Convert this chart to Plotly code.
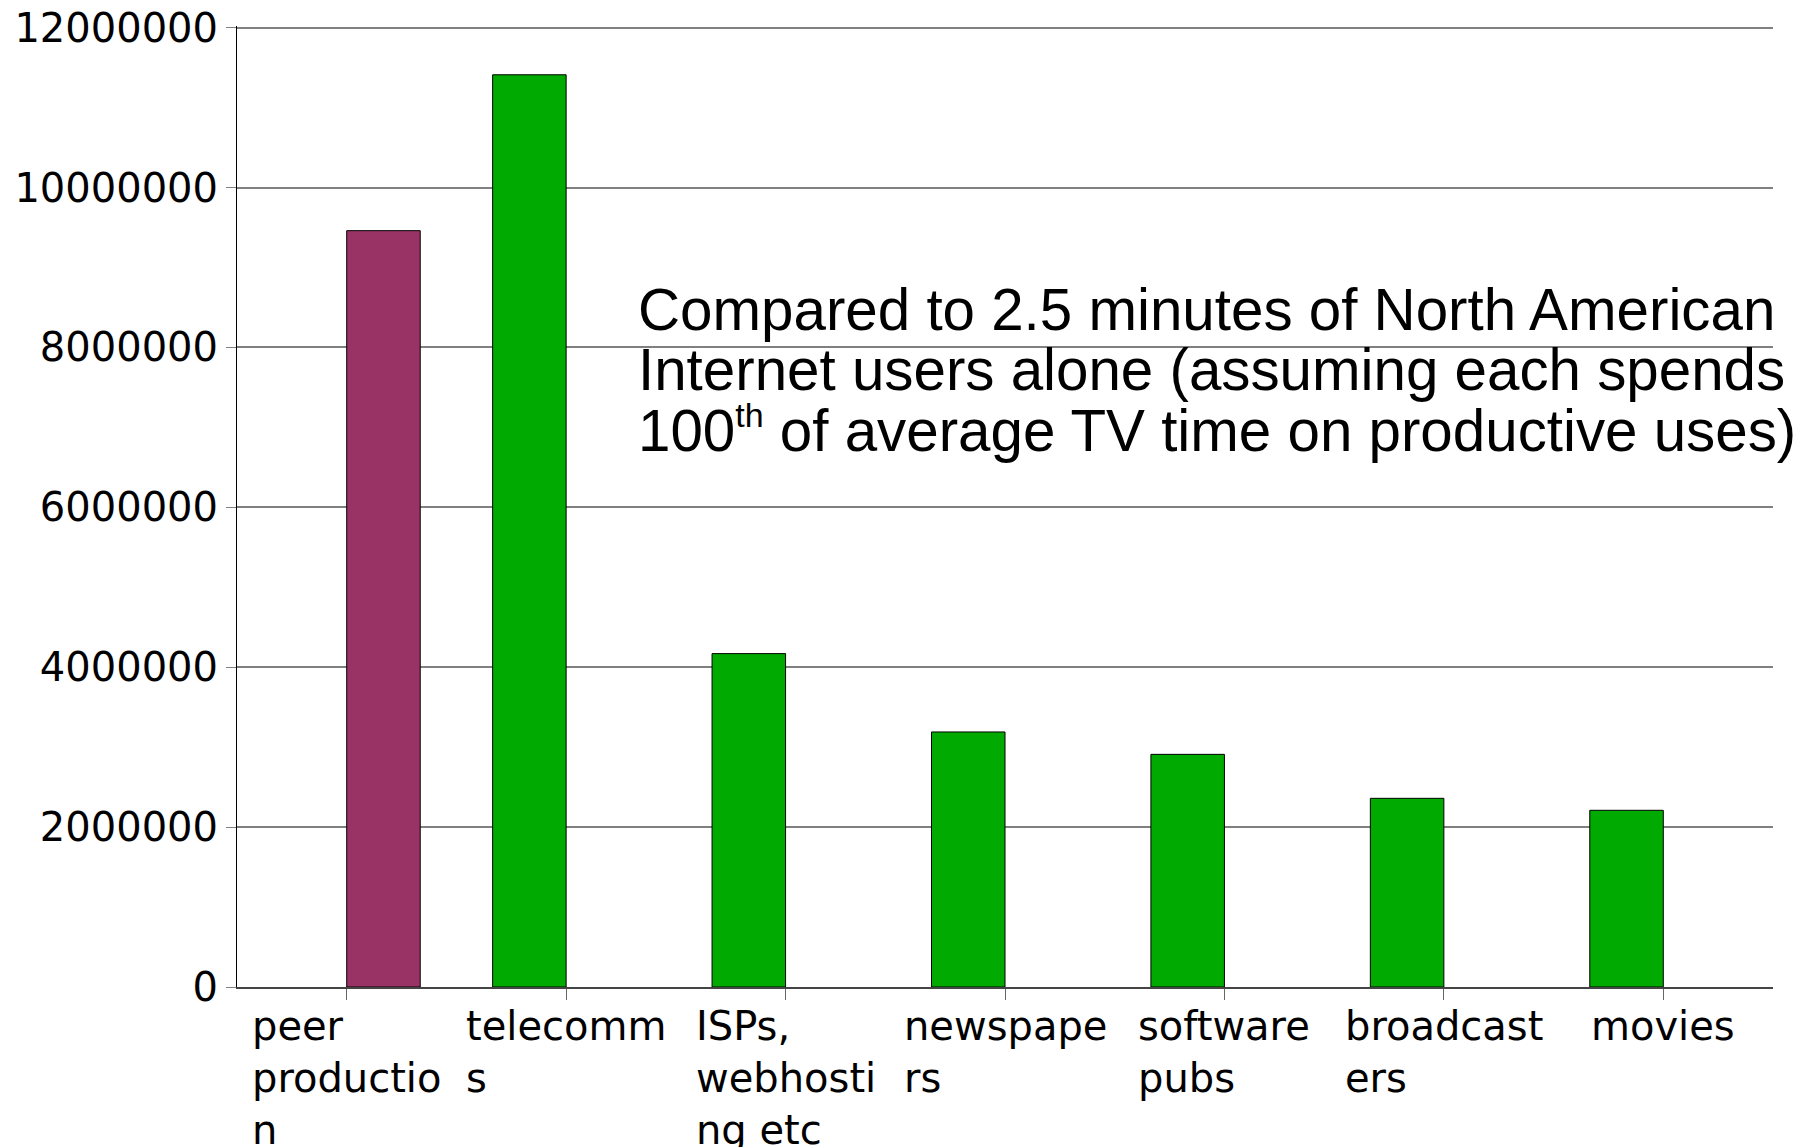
import plotly.graph_objects as go

categories = ["peer production", "telecomms", "ISPs, webhosting etc", "newspapers",
              "software pubs", "broadcasters", "movies"]
# wrapped the way the original chart breaks them
category_labels = ["peer<br>productio<br>n", "telecomm<br>s", "ISPs,<br>webhosti<br>ng etc",
                   "newspape<br>rs", "software<br>pubs", "broadcast<br>ers", "movies"]
industry_values = [None, 11410000, 4170000, 3190000, 2910000, 2360000, 2210000]
peer_values = [9460000, None, None, None, None, None, None]
y_ticks = [0, 2000000, 4000000, 6000000, 8000000, 10000000, 12000000]

note_lines = [
    "Compared to 2.5 minutes of North American",
    "Internet users alone (assuming each spends",
    "100<sup><span style='font-size:34px'>th</span></sup> of average TV time on productive uses)",
]

fig = go.Figure()
fig.add_trace(go.Bar(x=categories, y=industry_values, marker_color="#00aa00",
                     marker_line=dict(color="#000000", width=1), showlegend=False))
fig.add_trace(go.Bar(x=categories, y=peer_values, marker_color="#993366",
                     marker_line=dict(color="#000000", width=1), showlegend=False))

# category labels: left aligned lines, block centred on the tick
for cat, lab in zip(categories, category_labels):
    fig.add_annotation(x=cat, xref="x", y=-0.0145, yref="paper", yanchor="top",
                       xanchor="center", align="left", text=lab, showarrow=False,
                       font=dict(family="DejaVu Sans", size=40, color="#000000"))

for i, line in enumerate(note_lines):
    fig.add_annotation(x=0.2595, xref="paper", y=0.705 - i * 0.0625, yref="paper",
                       xanchor="left", yanchor="middle", text=line, showarrow=False,
                       font=dict(family="Liberation Sans", size=58.3, color="#000000"))

fig.update_layout(
    width=1796, height=1147,
    barmode="group", bargap=0.33, bargroupgap=0,
    plot_bgcolor="#ffffff", paper_bgcolor="#ffffff",
    margin=dict(l=237, r=23, t=26, b=160, autoexpand=False),
    font=dict(family="DejaVu Sans", size=40, color="#000000"),
    xaxis=dict(
        showticklabels=False, automargin=False,
        ticks="outside", ticklen=11, tickcolor="#666666", tickwidth=1,
        showline=True, linecolor="#444444", linewidth=2,
        showgrid=False, zeroline=False,
    ),
    yaxis=dict(
        # a little headroom so the 12000000 grid line is not clipped
        range=[0, 12020000], tickvals=y_ticks, tickformat="d", automargin=False,
        ticks="outside", ticklen=10, tickcolor="#808080", tickwidth=1,
        ticklabelstandoff=0,
        showline=True, linecolor="#000000", linewidth=1,
        showgrid=True, gridcolor="#808080", gridwidth=1.5,
        zeroline=False,
        tickfont=dict(family="DejaVu Sans", size=40, color="#000000"),
    ),
)

fig.write_html("out.html", config={"displayModeBar": False},
               post_script="document.body.style.margin='0';")
